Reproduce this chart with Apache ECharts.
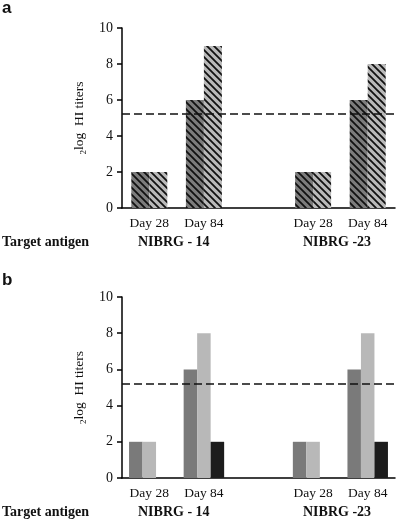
<!DOCTYPE html>
<html>
<head>
<meta charset="utf-8">
<script src="https://cdn.jsdelivr.net/npm/echarts@6/dist/echarts.min.js"></script>
<style>
  html, body { margin: 0; padding: 0; background: #fff; }
  #main { width: 396px; height: 521px; }
</style>
</head>
<body>
<div id="main"></div>
<script>
// categories (the empty one is the gap between the two antigens)
const days = ["Day 28", "Day 84", "", "Day 28", "Day 84"];

// panel a
const aDark = [2, 6, null, 2, 6];
const aLight = [2, 9, null, 2, 8];
const aCutoff = 5.25;

// panel b
const bDark = [2, 6, null, 2, 6];
const bLight = [2, 8, null, 2, 8];
const bBlack = [0, 2, null, 0, 2];
const bCutoff = 5.2;

const serif = "'Liberation Serif', 'DejaVu Serif', serif";

// diagonal hatch pattern, lines running top-left to bottom-right
function hatch(bg) {
  const s = 7;
  const c = document.createElement("canvas");
  c.width = s; c.height = s;
  const ctx = c.getContext("2d");
  ctx.fillStyle = bg;
  ctx.fillRect(0, 0, s, s);
  ctx.strokeStyle = "#111";
  ctx.lineWidth = 1.8;
  ctx.beginPath();
  ctx.moveTo(-1, -1); ctx.lineTo(s + 1, s + 1);
  ctx.moveTo(-1, s - 1); ctx.lineTo(1, s + 1);
  ctx.moveTo(s - 1, -1); ctx.lineTo(s + 1, 1);
  ctx.stroke();
  return { image: c, repeat: "repeat" };
}

const chart = echarts.init(document.getElementById("main"), null, { renderer: "canvas" });

function xAxis(idx) {
  return {
    type: "category",
    gridIndex: idx,
    data: days,
    boundaryGap: true,
    axisLine: { lineStyle: { color: "#000", width: 1.5 } },
    axisTick: { alignWithLabel: true, length: 5, lineStyle: { color: "#000", width: 1.5 } },
    axisLabel: { color: "#111", fontFamily: serif, fontSize: 13.5, margin: 8, interval: 0 }
  };
}

function yAxis(idx) {
  return {
    type: "value",
    gridIndex: idx,
    min: 0,
    max: 10,
    interval: 2,
    name: "{s|2}log  HI titers",
    nameLocation: "middle",
    nameGap: 29,
    nameTextStyle: {
      color: "#111", fontFamily: serif, fontSize: 13.5,
      rich: { s: { fontFamily: serif, fontSize: 9, padding: [9, 0, 0, 0] } }
    },
    axisLine: { show: true, lineStyle: { color: "#000", width: 1.5 } },
    axisTick: { show: true, length: 5, lineStyle: { color: "#000", width: 1.5 } },
    axisLabel: { color: "#111", fontFamily: serif, fontSize: 14, margin: 9 },
    splitLine: { show: false }
  };
}

function cutoff(v) {
  return {
    silent: true,
    symbol: "none",
    label: { show: false },
    lineStyle: { color: "#111", type: [8, 4], width: 1.5 },
    data: [{ yAxis: v }]
  };
}

function bar(data, color, xi, width, extra) {
  return Object.assign({
    type: "bar",
    xAxisIndex: xi,
    yAxisIndex: xi,
    data: data,
    barWidth: width,
    barGap: "0%",
    itemStyle: { color: color },
    emphasis: { disabled: true }
  }, extra || {});
}

const boldText = (x, y, text) => ({
  type: "text",
  left: x, top: y,
  style: { text: text, font: "bold 14px " + serif, fill: "#111" }
});

chart.setOption({
  animation: false,
  grid: [
    { left: 122, top: 28, width: 273, height: 180 },
    { left: 122, top: 297, width: 273, height: 181 }
  ],
  xAxis: [xAxis(0), xAxis(1)],
  yAxis: [yAxis(0), yAxis(1)],
  series: [
    bar(aDark, hatch("#7c7c7c"), 0, 18, { markLine: cutoff(aCutoff) }),
    bar(aLight, hatch("#b9b9b9"), 0, 18),
    bar(bDark, "#7a7a7a", 1, 13.5, { markLine: cutoff(bCutoff) }),
    bar(bLight, "#b8b8b8", 1, 13.5),
    bar(bBlack, "#1c1c1c", 1, 13.5)
  ],
  graphic: [
    { type: "text", left: 2, top: 0, style: { text: "a", font: "bold 17px 'Liberation Sans', Arial, sans-serif", fill: "#111" } },
    { type: "text", left: 2, top: 272, style: { text: "b", font: "bold 17px 'Liberation Sans', Arial, sans-serif", fill: "#111" } },
    boldText(2, 235, "Target antigen"),
    boldText(138, 235, "NIBRG - 14"),
    boldText(303, 235, "NIBRG -23"),
    boldText(2, 505, "Target antigen"),
    boldText(138, 505, "NIBRG - 14"),
    boldText(303, 505, "NIBRG -23")
  ]
});
</script>
</body>
</html>
